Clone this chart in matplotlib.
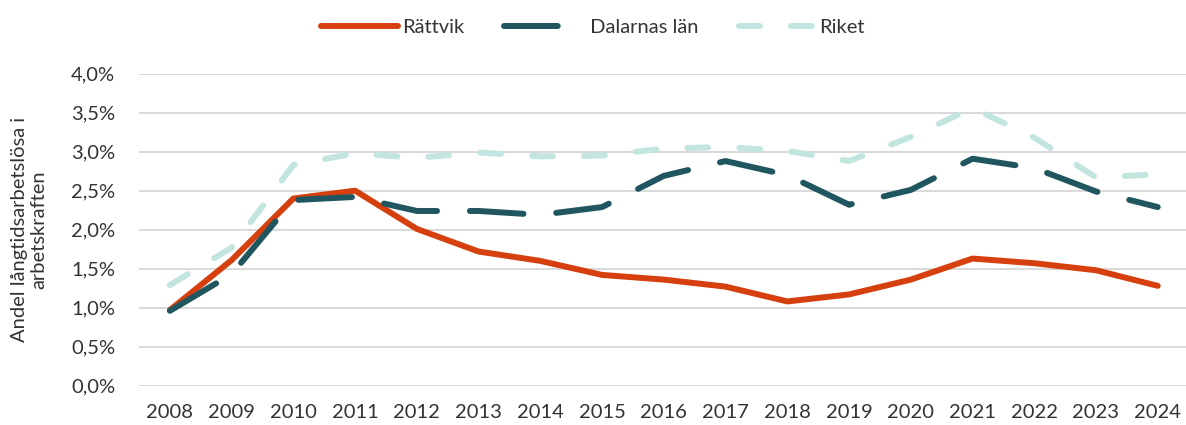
import numpy as np
import matplotlib
matplotlib.use("Agg")
import matplotlib.pyplot as plt
from matplotlib.ticker import FuncFormatter, MultipleLocator

years = [str(y) for y in range(2008, 2025)]
rattvik = [0.97, 1.61, 2.40, 2.50, 2.01, 1.72, 1.60, 1.42, 1.36, 1.27, 1.08, 1.17, 1.36, 1.63, 1.57, 1.48, 1.28]
dalarna = [0.96, 1.43, 2.38, 2.42, 2.24, 2.24, 2.19, 2.29, 2.69, 2.88, 2.70, 2.32, 2.51, 2.91, 2.79, 2.49, 2.29]
riket = [1.29, 1.77, 2.83, 2.98, 2.92, 2.99, 2.94, 2.95, 3.04, 3.06, 3.01, 2.88, 3.19, 3.56, 3.18, 2.67, 2.71]
names = ["Rättvik", " Dalarnas län", "Riket"]

C_RATTVIK = "#D5400E"
C_DALARNA = "#1F565F"
C_RIKET = "#C2E5E0"
TEXT = "#333333"
FS = 14.5

plt.rcParams["font.family"] = ["Lato", "DejaVu Sans"]

fig = plt.figure(figsize=(11.86, 4.25), dpi=100)
ax = fig.add_axes([0.1172, 0.0925, 0.885, 0.7341])

x = np.arange(len(years))
lw = 4.3
ax.plot(x, rattvik, color=C_RATTVIK, lw=lw, solid_capstyle="round", solid_joinstyle="round",
        label=names[0], zorder=3)
ax.plot(x, dalarna, color=C_DALARNA, lw=lw, dashes=(9, 5.5), dash_capstyle="round",
        dash_joinstyle="round", label=names[1], zorder=4)
ax.plot(x, riket, color=C_RIKET, lw=lw, dashes=(3.5, 5.2), dash_capstyle="round",
        dash_joinstyle="round", label=names[2], zorder=2)

ax.set_xlim(-0.5, len(years) - 0.5)
ax.set_ylim(0, 4.0)
ax.yaxis.set_major_locator(MultipleLocator(0.5))
ax.yaxis.set_major_formatter(FuncFormatter(lambda v, p: f"{v:.1f}%".replace(".", ",")))
ax.set_xticks(x)
ax.set_xticklabels(years)
ax.grid(axis="y", color="#D9D9D9", lw=1.4, zorder=0)
ax.set_axisbelow(True)
for s in ax.spines.values():
    s.set_visible(False)
ax.tick_params(axis="both", length=0, labelsize=FS, colors=TEXT)
ax.tick_params(axis="y", pad=17)
ax.tick_params(axis="x", pad=13)

fig.text(29 / 1186, 1 - 229.7 / 425, "Andel långtidsarbetslösa i\narbetskraften", rotation=90,
         ha="center", va="center", multialignment="center", fontsize=FS, color=TEXT,
         linespacing=1.2)

leg = fig.legend(loc="center", bbox_to_anchor=(0.5, 0.936), ncol=3, frameon=False,
                 fontsize=FS, handlelength=3.8, handletextpad=0.2, columnspacing=2.0)
for t in leg.get_texts():
    t.set_color(TEXT)

fig.savefig("out.png", dpi=100)
